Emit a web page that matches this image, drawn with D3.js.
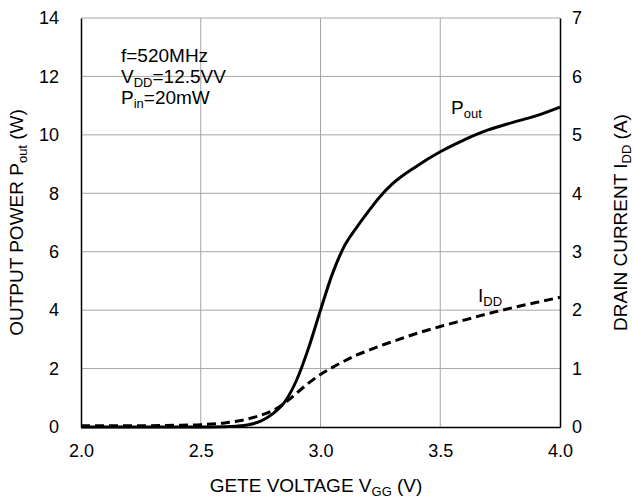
<!DOCTYPE html>
<html>
<head>
<meta charset="utf-8">
<script src="https://cdn.jsdelivr.net/npm/d3@7"></script>
<style>
  body { margin: 0; background: #fff; }
  svg text, svg tspan { font-family: "Liberation Sans", Arial, sans-serif; fill: #000; }
</style>
</head>
<body>
<svg id="chart" width="633" height="500"></svg>
<script>
// Gate voltage (V)
const vgg  = [2.0, 2.2, 2.4, 2.5, 2.6, 2.65, 2.7, 2.75, 2.8, 2.85, 2.9, 2.95, 3.0, 3.05, 3.1, 3.15, 3.2, 3.25, 3.3, 3.4, 3.5, 3.6, 3.7, 3.8, 3.9, 4.0];
// Output power (W)
const pout = [0, 0, 0, 0, 0.01, 0.03, 0.08, 0.2, 0.45, 0.85, 1.6, 2.7, 4.0, 5.25, 6.2, 6.82, 7.38, 7.9, 8.32, 8.92, 9.42, 9.83, 10.17, 10.42, 10.65, 10.95];
// Drain current (A)
const idd  = [0.02, 0.02, 0.03, 0.04, 0.07, 0.1, 0.14, 0.2, 0.28, 0.41, 0.58, 0.75, 0.9, 1.02, 1.13, 1.23, 1.31, 1.39, 1.46, 1.6, 1.72, 1.83, 1.94, 2.04, 2.13, 2.22];

const xTicks = [2.0, 2.5, 3.0, 3.5, 4.0];
const yLeftTicks = [0, 2, 4, 6, 8, 10, 12, 14];
const yRightTicks = [0, 1, 2, 3, 4, 5, 6, 7];

const svg = d3.select("#chart");
const L = 81, R = 560, T = 18, B = 427;
const FS = 18;
const TF = 19;

const x = d3.scaleLinear().domain([2, 4]).range([L, R]);
const yL = d3.scaleLinear().domain([0, 14]).range([B, T]);
const yR = d3.scaleLinear().domain([0, 7]).range([B, T]);

// gridlines
const grid = svg.append("g");
grid.selectAll("line.h").data(yLeftTicks.filter(d => d > 0)).enter().append("line")
  .attr("x1", L).attr("x2", R).attr("y1", d => yL(d)).attr("y2", d => yL(d))
  .attr("stroke", "#a6a6a6").attr("stroke-width", 1);
grid.selectAll("line.v").data(xTicks.filter(d => d > 2 && d < 4)).enter().append("line")
  .attr("x1", d => x(d)).attr("x2", d => x(d)).attr("y1", T).attr("y2", B)
  .attr("stroke", "#a6a6a6").attr("stroke-width", 1);

// axes (frame)
const xAxis = d3.axisBottom(x).tickValues(xTicks).tickFormat(d3.format(".1f")).tickSize(0).tickPadding(17);
const gx = svg.append("g").attr("transform", `translate(0,${B})`).call(xAxis);
const gyl = svg.append("g").attr("transform", `translate(${L},0)`)
  .call(d3.axisLeft(yL).tickValues(yLeftTicks).tickFormat(d3.format("d")).tickSize(0).tickPadding(22));
const gyr = svg.append("g").attr("transform", `translate(${R},0)`)
  .call(d3.axisRight(yR).tickValues(yRightTicks).tickFormat(d3.format("d")).tickSize(0).tickPadding(12));
[gx, gyl, gyr].forEach(g => {
  g.select(".domain").attr("stroke", "#000").attr("stroke-width", 1.5);
  g.selectAll("text").attr("font-size", FS).attr("font-family", "Liberation Sans, Arial, sans-serif").attr("fill", "#000");
});

// lines
const linePout = d3.line().x((d, i) => x(vgg[i])).y(d => yL(d)).curve(d3.curveMonotoneX);
const lineIdd = d3.line().x((d, i) => x(vgg[i])).y(d => yR(d)).curve(d3.curveMonotoneX);

svg.append("path").datum(idd).attr("d", lineIdd)
  .attr("fill", "none").attr("stroke", "#000").attr("stroke-width", 3)
  .attr("stroke-dasharray", "9,5");
svg.append("path").datum(pout).attr("d", linePout)
  .attr("fill", "none").attr("stroke", "#000").attr("stroke-width", 3);

// text with subscripts
function subText(g, parts, subSize) {
  parts.forEach(p => {
    const t = g.append("tspan").text(p.t).attr("fill", "#000");
    if (p.sub) t.attr("font-size", subSize).attr("dy", 4);
    else if (p.after) t.attr("dy", -4);
  });
}
const xt = svg.append("text").attr("x", 316).attr("y", 492).attr("text-anchor", "middle").attr("font-size", TF);
subText(xt, [{t: "GETE VOLTAGE V"}, {t: "GG", sub: true}, {t: " (V)", after: true}], 13);

const ylt = svg.append("text").attr("transform", `translate(23,${(T + B) / 2}) rotate(-90)`)
  .attr("text-anchor", "middle").attr("font-size", TF);
subText(ylt, [{t: "OUTPUT POWER P"}, {t: "out", sub: true}, {t: " (W)", after: true}], 13);

const yrt = svg.append("text").attr("transform", `translate(627,${(T + B) / 2}) rotate(-90)`)
  .attr("text-anchor", "middle").attr("font-size", TF);
subText(yrt, [{t: "DRAIN CURRENT I"}, {t: "DD", sub: true}, {t: " (A)", after: true}], 13);

// annotations
const AF = 19;
svg.append("text").attr("x", 121).attr("y", 62).attr("font-size", AF).text("f=520MHz");
const a2 = svg.append("text").attr("x", 121).attr("y", 83).attr("font-size", AF);
subText(a2, [{t: "V"}, {t: "DD", sub: true}, {t: "=12.5VV", after: true}], 13);
const a3 = svg.append("text").attr("x", 121).attr("y", 104).attr("font-size", AF);
subText(a3, [{t: "P"}, {t: "in", sub: true}, {t: "=20mW", after: true}], 13);

const lp = svg.append("text").attr("x", 451).attr("y", 114).attr("font-size", AF);
subText(lp, [{t: "P"}, {t: "out", sub: true}], 13);
const li = svg.append("text").attr("x", 478).attr("y", 302).attr("font-size", AF);
subText(li, [{t: "I"}, {t: "DD", sub: true}], 13);
</script>
</body>
</html>
